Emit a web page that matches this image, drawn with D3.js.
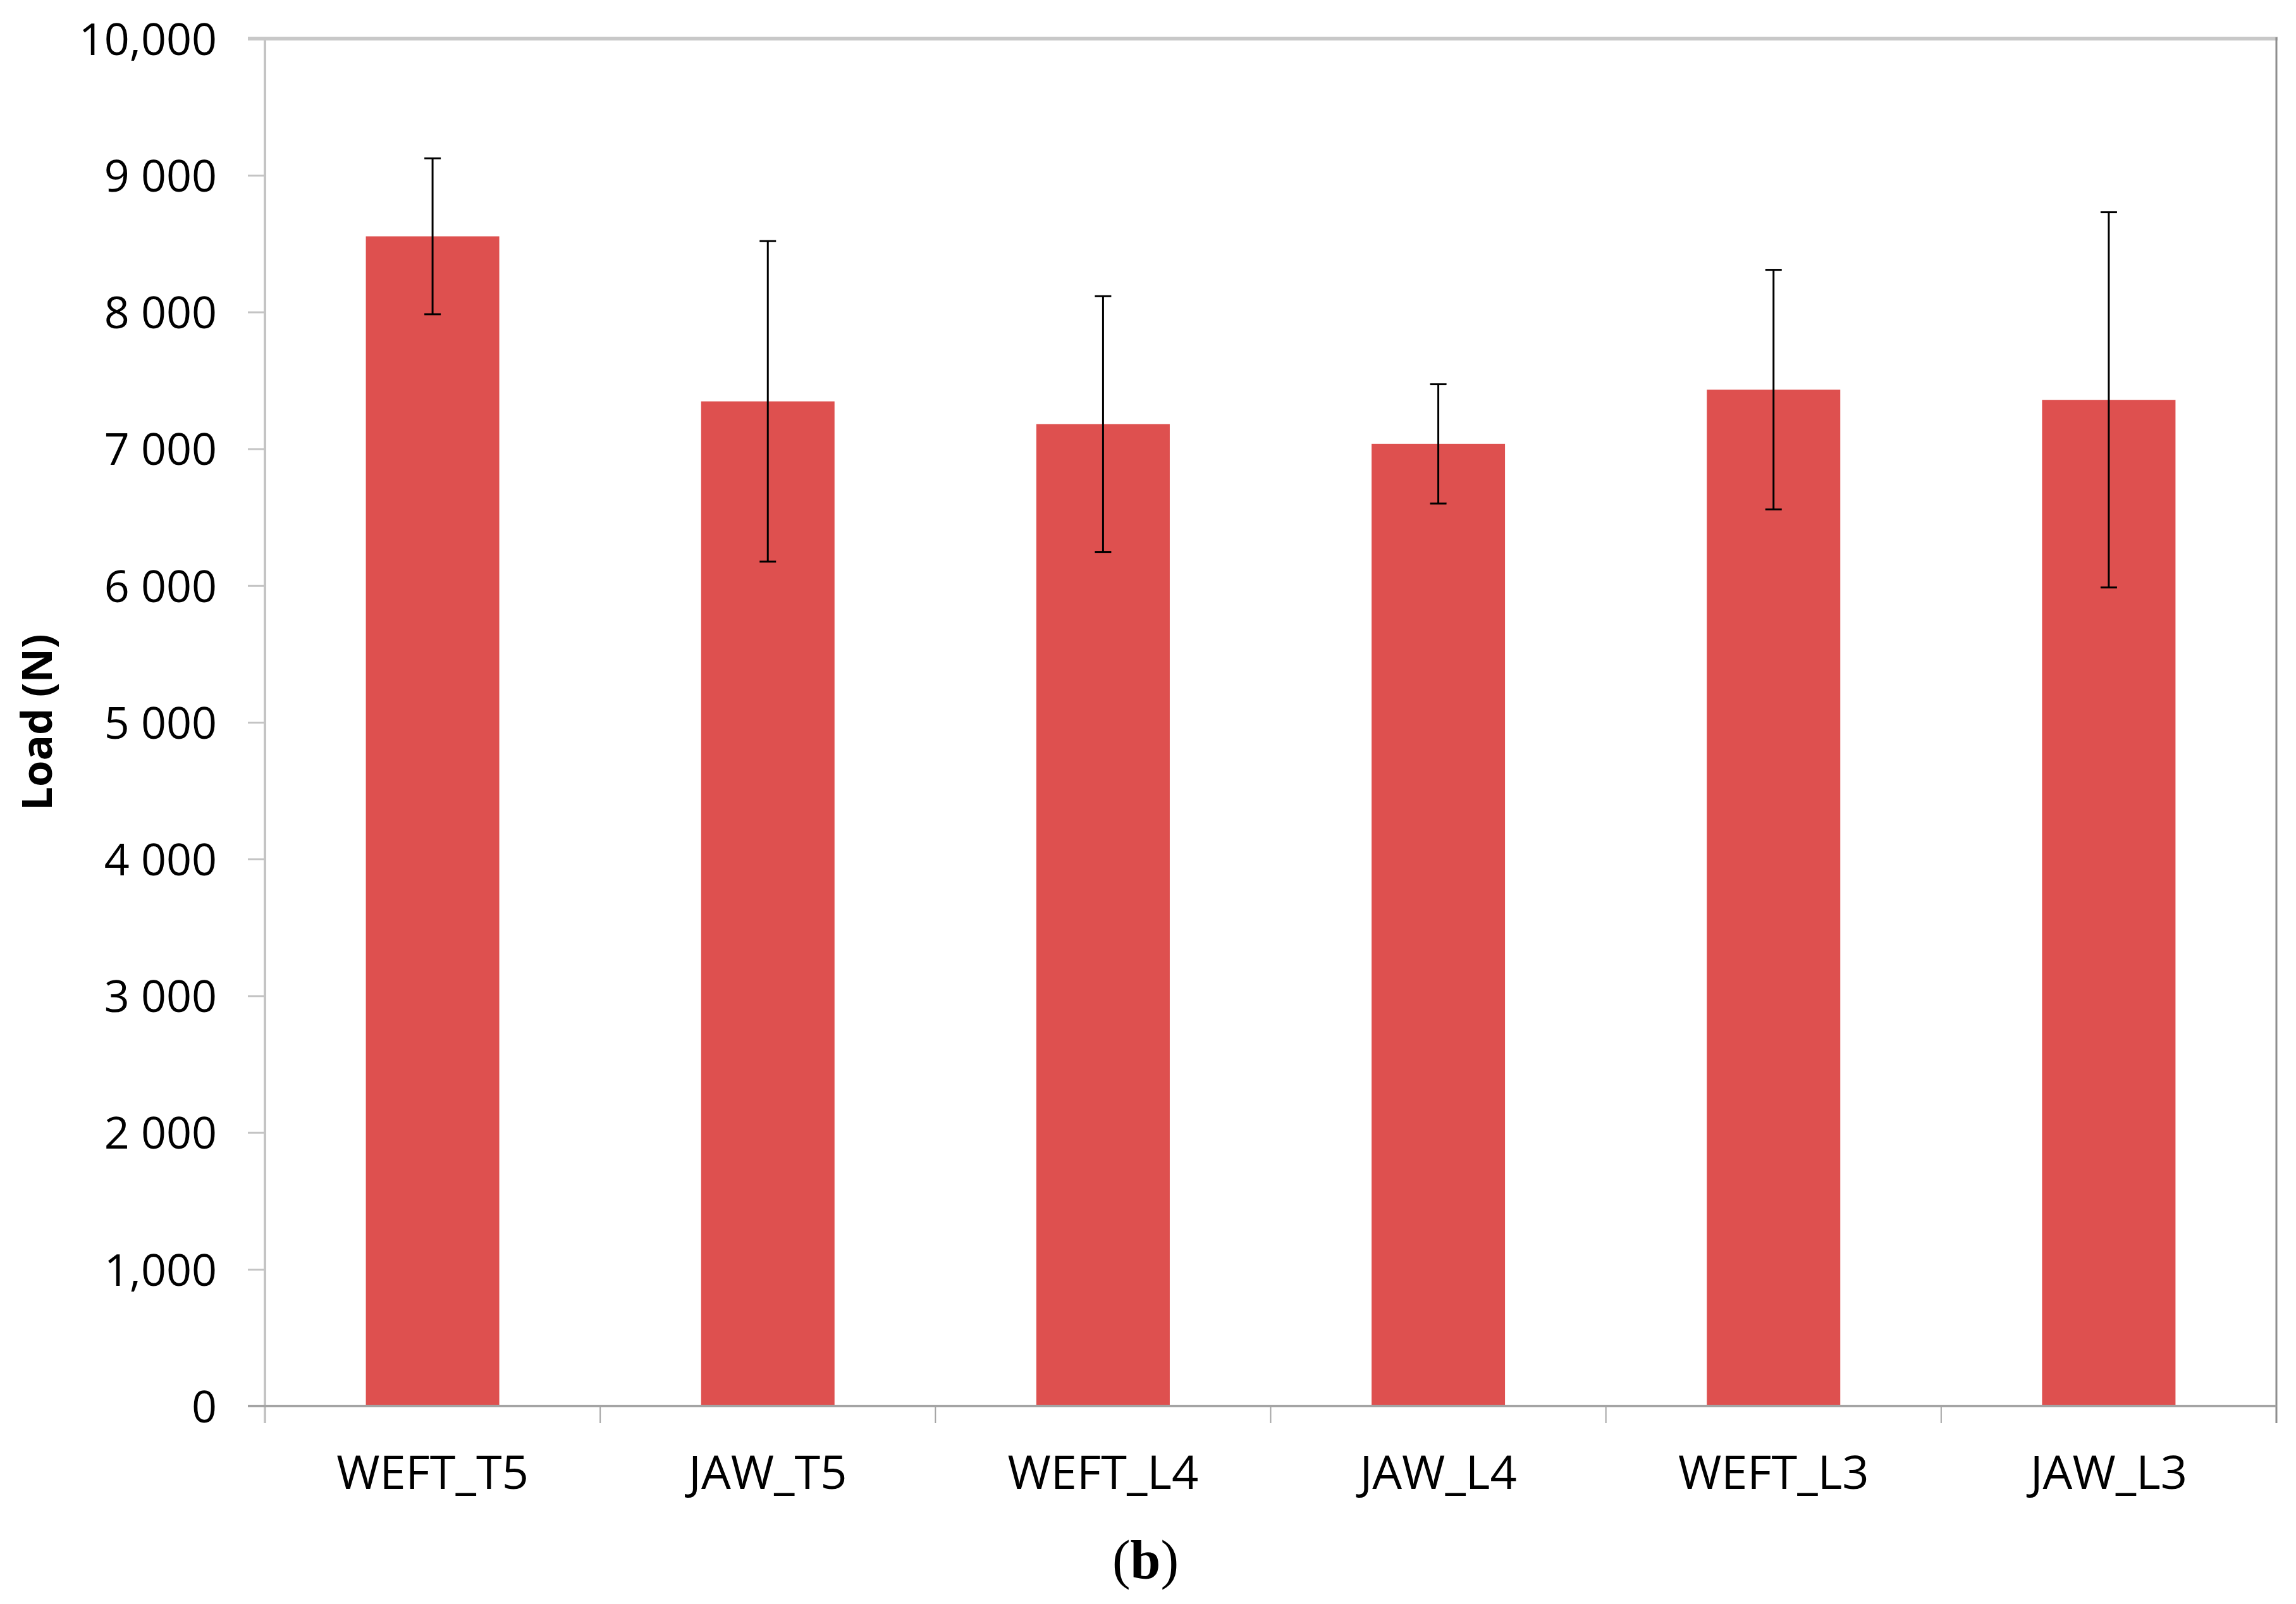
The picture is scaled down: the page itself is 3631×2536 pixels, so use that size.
<!DOCTYPE html>
<html>
<head>
<meta charset="utf-8">
<script src="https://cdn.jsdelivr.net/npm/d3@7"></script>
<style>
  html, body { margin: 0; padding: 0; background: #fff; }
  svg { display: block; }
</style>
</head>
<body>
<script>
// ---- data ----
const categories = ["WEFT_T5", "JAW_T5", "WEFT_L4", "JAW_L4", "WEFT_L3", "JAW_L3"];
const loadMeans  = [8554, 7347, 7181, 7036, 7433, 7358];
const loadErrors = [570, 1172, 935, 436, 876, 1372];
const yTickValues = [0, 1000, 2000, 3000, 4000, 5000, 6000, 7000, 8000, 9000, 10000];
const yTickLabels = ["0", "1,000", "2 000", "3 000", "4 000", "5 000", "6 000", "7 000", "8 000", "9 000", "10,000"];
const yAxisTitle = "Load (N)";
const caption = ["(", "b", ")"];

// ---- layout ----
const W = 3631, H = 2536;
const plot = { left: 419, right: 3600, top: 61, bottom: 2223 };

const svg = d3.select("body").append("svg")
  .attr("width", W).attr("height", H)
  .attr("viewBox", `0 0 ${W} ${H}`);
svg.append("rect").attr("width", W).attr("height", H).attr("fill", "#fff");

const x = d3.scaleBand()
  .domain(categories)
  .range([plot.left, plot.right])
  .paddingInner(0.602)
  .paddingOuter(0.301);

const y = d3.scaleLinear().domain([0, 10000]).range([plot.bottom, plot.top]);

const data = categories.map((c, i) => ({ cat: c, v: loadMeans[i], e: loadErrors[i] }));

// ---- y axis ----
const yAxis = d3.axisLeft(y)
  .tickValues(yTickValues)
  .tickSize(27)
  .tickPadding(0)
  .tickFormat((d, i) => yTickLabels[i]);

const gy = svg.append("g").attr("transform", `translate(${plot.left},0)`).call(yAxis);
gy.select(".domain").remove();
gy.selectAll(".tick line").attr("stroke", "#c4c4c4").attr("stroke-width", 3);
gy.selectAll(".tick text")
  .attr("x", -76)
  .attr("dy", "0.36em")
  .attr("fill", "#000")
  .style("font-family", "'Open Sans', sans-serif")
  .style("font-size", "70px");

// left axis line
svg.append("line")
  .attr("x1", plot.left).attr("x2", plot.left)
  .attr("y1", plot.top).attr("y2", plot.bottom + 27)
  .attr("stroke", "#c4c4c4").attr("stroke-width", 4);

// top border (extends like 10,000 tick)
svg.append("line")
  .attr("x1", plot.left - 27).attr("x2", plot.right + 2)
  .attr("y1", y(10000)).attr("y2", y(10000))
  .attr("stroke", "#c8c8c8").attr("stroke-width", 6);

// right border
svg.append("line")
  .attr("x1", plot.right).attr("x2", plot.right)
  .attr("y1", plot.top - 2).attr("y2", plot.bottom + 27)
  .attr("stroke", "#8e8e8e").attr("stroke-width", 3);

// ---- bars ----
svg.append("g").selectAll("rect")
  .data(data).join("rect")
  .attr("x", d => x(d.cat))
  .attr("width", x.bandwidth())
  .attr("y", d => y(d.v))
  .attr("height", d => y(0) - y(d.v))
  .attr("fill", "#de504f");

// ---- x axis ----
svg.append("line")
  .attr("x1", plot.left - 27).attr("x2", plot.right)
  .attr("y1", y(0)).attr("y2", y(0))
  .attr("stroke", "#a4a4a4").attr("stroke-width", 4);

const boundaries = d3.range(categories.length + 1).map(i => plot.left + i * x.step());
svg.append("g").selectAll("line")
  .data(boundaries.slice(1, -1)).join("line")
  .attr("x1", d => d).attr("x2", d => d)
  .attr("y1", y(0)).attr("y2", y(0) + 27)
  .attr("stroke", "#a4a4a4").attr("stroke-width", 2);

const xAxis = d3.axisBottom(x).tickSize(0).tickPadding(0);
const gx = svg.append("g").attr("transform", `translate(0,${plot.bottom})`).call(xAxis);
gx.select(".domain").remove();
gx.selectAll(".tick text")
  .attr("y", 131)
  .attr("dy", 0)
  .attr("fill", "#000")
  .style("font-family", "'Open Sans', sans-serif")
  .style("font-size", "74px");

// ---- error bars ----
const eg = svg.append("g").attr("stroke", "#000").attr("stroke-width", 3);
const cx = d => x(d.cat) + x.bandwidth() / 2;
eg.selectAll("line.v").data(data).join("line").attr("class", "v")
  .attr("x1", cx).attr("x2", cx)
  .attr("y1", d => y(d.v + d.e)).attr("y2", d => y(d.v - d.e));
eg.selectAll("line.t").data(data).join("line").attr("class", "t")
  .attr("x1", d => cx(d) - 13).attr("x2", d => cx(d) + 13)
  .attr("y1", d => y(d.v + d.e)).attr("y2", d => y(d.v + d.e));
eg.selectAll("line.b").data(data).join("line").attr("class", "b")
  .attr("x1", d => cx(d) - 13).attr("x2", d => cx(d) + 13)
  .attr("y1", d => y(d.v - d.e)).attr("y2", d => y(d.v - d.e));

// ---- y axis title ----
svg.append("text")
  .attr("transform", `translate(82,${(plot.top + plot.bottom) / 2}) rotate(-90)`)
  .attr("text-anchor", "middle")
  .attr("fill", "#000")
  .style("font-family", "'Open Sans', sans-serif")
  .style("font-weight", "700")
  .style("font-size", "67px")
  .text(yAxisTitle);

// ---- caption ----
const cap = svg.append("text")
  .attr("x", W / 2 - 4).attr("y", 2495)
  .attr("text-anchor", "middle")
  .attr("fill", "#000")
  .style("font-family", "'Liberation Serif', serif")
  .style("font-size", "86px");
cap.append("tspan").text(caption[0]);
cap.append("tspan").style("font-weight", "700").text(caption[1]);
cap.append("tspan").text(caption[2]);
</script>
</body>
</html>
